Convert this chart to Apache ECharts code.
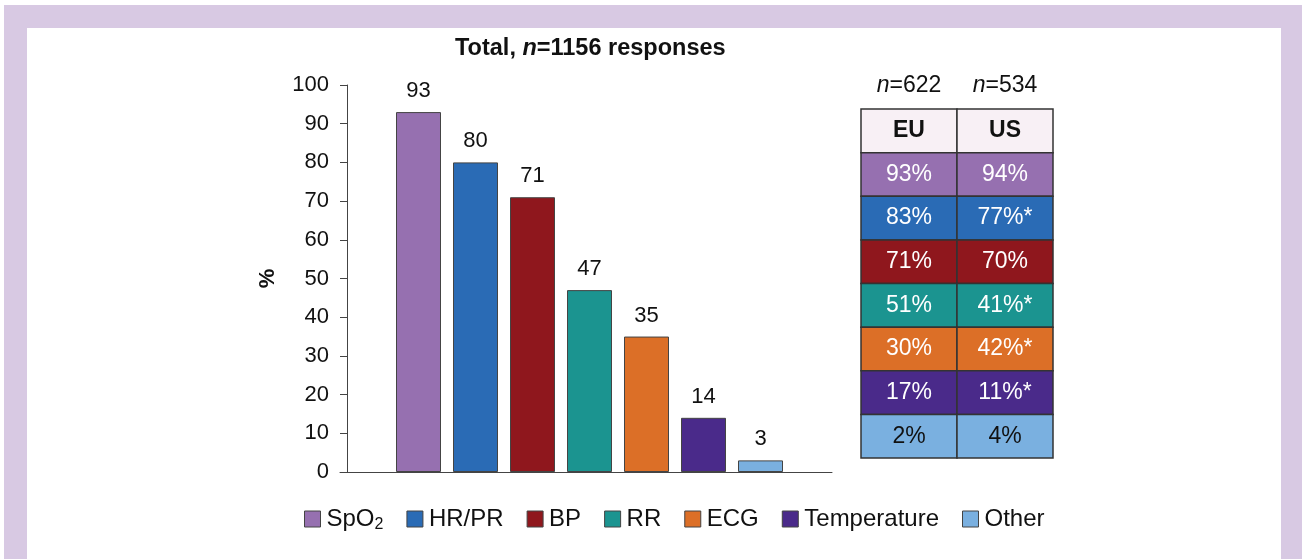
<!DOCTYPE html>
<html>
<head>
<meta charset="utf-8">
<script src="https://cdn.jsdelivr.net/npm/echarts@6/dist/echarts.min.js"></script>
<style>
  body { margin: 0; background: #fff; }
  #wrap { position: relative; width: 1302px; height: 559px; overflow: hidden; }
  #frame { position: absolute; left: 4px; top: 5px; width: 1298px; height: 554px; background: #d8c9e3; }
  #inner { position: absolute; left: 27px; top: 28px; width: 1254px; height: 531px; background: #fff; }
  #main { position: absolute; left: 0; top: 0; width: 1302px; height: 559px; }
</style>
</head>
<body>
<div id="wrap">
  <div id="frame"></div>
  <div id="inner"></div>
  <div id="main"></div>
</div>
<script>
// data
var categories = ['SpO2', 'HR/PR', 'BP', 'RR', 'ECG', 'Temperature', 'Other'];
var totals = [93, 80, 71, 47, 35, 14, 3];
var colors = ['#9670b0', '#2a6bb5', '#8f171d', '#1b9490', '#dc6f27', '#4a2a8a', '#7ab0e0'];
var yTicks = [0, 10, 20, 30, 40, 50, 60, 70, 80, 90, 100];
var regions = ['EU', 'US'];
var regionN = [622, 534];
var euVals = [93, 83, 71, 51, 30, 17, 2];
var usVals = [94, 77, 70, 41, 42, 11, 4];
var usSig = [false, true, false, true, true, true, false];

var font = 'Liberation Sans, Arial, sans-serif';
var fs = 22;   // axis + bar labels
var fsT = 23;  // table, title
var myChart = echarts.init(document.getElementById('main'));

// one series per category so the legend gets each colour
var series = categories.map(function (name, i) {
    var d = totals.map(function (v, j) { return j === i ? v : '-'; });
    return {
        name: name,
        type: 'bar',
        xAxisIndex: 1,
        yAxisIndex: 1,
        stack: 'total',
        barWidth: 45,
        data: d,
        itemStyle: { color: colors[i], borderColor: '#444', borderWidth: 1 },
        label: { show: true, position: 'top', distance: 10, color: '#111', fontSize: fs, fontFamily: font }
    };
});

// table cells: header row + one row per category
var tableRows = ['header'].concat(categories);
var cells = [];
for (var r = 0; r < tableRows.length; r++) {
    for (var c = 0; c < regions.length; c++) {
        cells.push([c, r]);
    }
}
function cellText(c, r) {
    if (r === 0) return regions[c];
    var k = r - 1;
    if (c === 0) return euVals[k] + '%';
    return usVals[k] + '%' + (usSig[k] ? '*' : '');
}
series.push({
    type: 'custom',
    xAxisIndex: 2,
    yAxisIndex: 2,
    data: cells,
    silent: true,
    renderItem: function (params, api) {
        var c = api.value(0), r = api.value(1);
        var p = api.coord([c, r]);
        var s = api.size([1, 1]);
        var fill = r === 0 ? '#f8f0f5' : colors[r - 1];
        var tc = (r === 0 || r === tableRows.length - 1) ? '#111' : '#fff';
        return {
            type: 'rect',
            shape: { x: p[0] - s[0] / 2, y: p[1] - s[1] / 2, width: s[0], height: s[1] },
            style: {
                fill: fill, stroke: '#333', lineWidth: 1.5,
                text: cellText(c, r),
                textFill: tc,
                fontSize: fsT,
                fontWeight: r === 0 ? 'bold' : 'normal',
                fontFamily: font,
                textPosition: 'inside'
            }
        };
    }
});

var option = {
    animation: false,
    title: {
        text: '{b|Total, }{i|n}{b|=1156 responses}',
        left: 450,
        top: 32,
        textStyle: {
            rich: {
                b: { fontWeight: 'bold', fontSize: 23.5, fontFamily: font, color: '#111' },
                i: { fontWeight: 'bold', fontStyle: 'italic', fontSize: 23.5, fontFamily: font, color: '#111' }
            }
        }
    },
    legend: {
        data: categories,
        left: 299,
        top: 502,
        itemWidth: 16,
        itemHeight: 16,
        itemGap: 23,
        icon: 'rect',
        itemStyle: { borderColor: '#444', borderWidth: 1 },
        formatter: function (name) {
            return name === 'SpO2' ? '{n|SpO}{s|2}' : '{n|' + name + '}';
        },
        textStyle: {
            padding: [0, 0, 0, 1],
            rich: {
                n: { fontSize: 24, fontFamily: font, color: '#111' },
                s: { fontSize: 16, fontFamily: font, color: '#111', padding: [11, 0, 0, 0] }
            }
        }
    },
    grid: [
        { left: 340, right: 470, top: 85, bottom: 87 },
        { left: 390, right: 513, top: 85, bottom: 87 },
        { left: 861, right: 249, top: 109, bottom: 101 }
    ],
    xAxis: [
        {
            gridIndex: 0, type: 'value', min: 0, max: 1,
            axisLine: { show: true, lineStyle: { color: '#444', width: 1 } },
            axisTick: { show: false }, axisLabel: { show: false }, splitLine: { show: false }
        },
        {
            gridIndex: 1, type: 'category', data: categories,
            axisLine: { show: false }, axisTick: { show: false }, axisLabel: { show: false }
        },
        {
            gridIndex: 2, type: 'category', data: regions, position: 'top',
            axisLine: { show: false }, axisTick: { show: false },
            axisLabel: {
                margin: 12,
                formatter: function (v, i) { return '{i|n}{t|=' + regionN[i] + '}'; },
                rich: {
                    i: { fontStyle: 'italic', fontSize: fsT, fontFamily: font, color: '#111' },
                    t: { fontSize: fsT, fontFamily: font, color: '#111' }
                }
            }
        }
    ],
    yAxis: [
        {
            gridIndex: 0, type: 'value', min: yTicks[0], max: yTicks[yTicks.length - 1], interval: 10,
            offset: -7,
            name: '%', nameLocation: 'middle', nameRotate: 90, nameGap: 68,
            nameTextStyle: { fontSize: fs, fontWeight: 'bold', fontFamily: font, color: '#111' },
            axisLine: { show: true, lineStyle: { color: '#444', width: 1 } },
            axisTick: { show: true, length: 7, lineStyle: { color: '#444' } },
            axisLabel: { margin: 18, fontSize: fs, fontFamily: font, color: '#111' },
            splitLine: { show: false }
        },
        {
            gridIndex: 1, type: 'value', min: 0, max: 100, show: false, splitLine: { show: false }
        },
        {
            gridIndex: 2, type: 'category', data: tableRows, inverse: true, show: false
        }
    ],
    series: series
};

myChart.setOption(option);
</script>
</body>
</html>
